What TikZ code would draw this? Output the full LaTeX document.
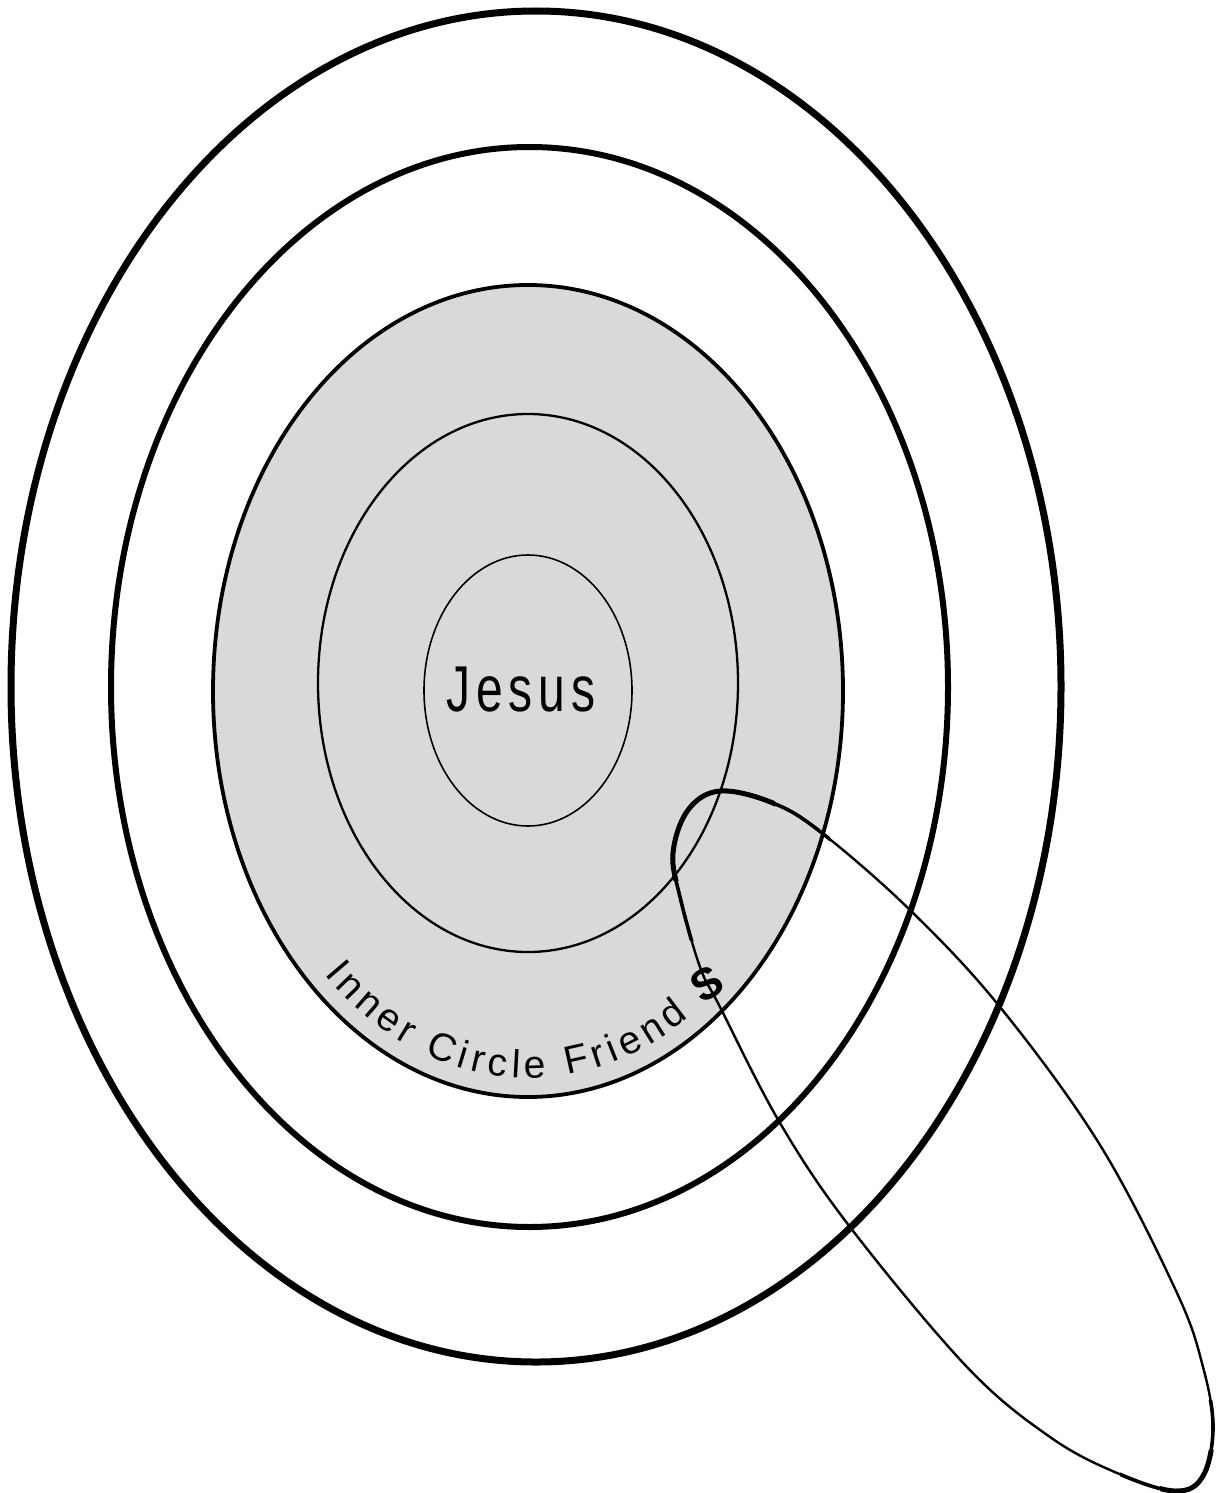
\documentclass[tikz,border=0pt]{standalone}
\usepackage{fontspec}
\setmainfont{Liberation Sans}
\usetikzlibrary{decorations.text}
\begin{document}
\begin{tikzpicture}[x=1pt,y=-1pt,
  ringA/.style={draw=black,line width=7pt},
  ringB/.style={draw=black,line width=6pt},
  ringC/.style={draw=black,line width=3.8pt,fill=gray!30},
  ringD/.style={draw=black,line width=2.3pt},
  ringE/.style={draw=black,line width=1.6pt},
  loopline/.style={draw=black,line width=2.4pt},
  loopmid/.style={draw=black,line width=3.6pt},
  loopthick/.style={draw=black,line width=5pt},
]
\fill[white] (0,0) rectangle (1219,1493);
\useasboundingbox (0,0) rectangle (1219,1493);
\draw[ringA] (536,686.5) ellipse [x radius=525, y radius=675.5];
\draw[ringB] (529.5,687) ellipse [x radius=418.5, y radius=540];
\draw[ringC] (528,691) ellipse [x radius=315, y radius=406];
\draw[ringD] (528,683) ellipse [x radius=210, y radius=269];
\draw[ringE] (528,690.5) ellipse [x radius=104, y radius=135.5];

\path[decorate, decoration={text along path, text align={fit to path},
   text={|\fontsize{39}{39}\selectfont|Inner Circle Friend}}]
   (528,691) ++(133:299 and 387) arc[start angle=133, end angle=57.5, x radius=299, y radius=387];

\begin{scope}[transform canvas={shift={(528,691)},yscale=1.35}]
  \node[anchor=base, inner sep=0pt, font=\fontsize{48}{48}\selectfont] (jesus) at (-7,15.5) {\addfontfeatures{LetterSpace=12}Jesus};
\end{scope}

\draw[loopline] plot[smooth cycle, tension=0.6] coordinates {(720,791) (773,803) (822,833) (910,910) (1000,1007) (1100,1145) (1177,1293) (1203,1367) (1213,1427) (1203,1476) (1175,1491) (1117,1473) (1050,1437) (967,1367) (850,1227) (780,1123) (720,1007) (700,967) (680,897) (673,853) (688,810)};
\begin{scope}
  \clip (655,775) rectangle (830,940);
  \draw[loopmid] plot[smooth cycle, tension=0.6] coordinates {(720,791) (773,803) (822,833) (910,910) (1000,1007) (1100,1145) (1177,1293) (1203,1367) (1213,1427) (1203,1476) (1175,1491) (1117,1473) (1050,1437) (967,1367) (850,1227) (780,1123) (720,1007) (700,967) (680,897) (673,853) (688,810)};
\end{scope}
\begin{scope}
  \clip (660,780) rectangle (775,880);
  \draw[loopthick] plot[smooth cycle, tension=0.6] coordinates {(720,791) (773,803) (822,833) (910,910) (1000,1007) (1100,1145) (1177,1293) (1203,1367) (1213,1427) (1203,1476) (1175,1491) (1117,1473) (1050,1437) (967,1367) (850,1227) (780,1123) (720,1007) (700,967) (680,897) (673,853) (688,810)};
\end{scope}
\begin{scope}
  \clip (1120,1400) rectangle (1219,1493);
  \draw[loopmid] plot[smooth cycle, tension=0.6] coordinates {(720,791) (773,803) (822,833) (910,910) (1000,1007) (1100,1145) (1177,1293) (1203,1367) (1213,1427) (1203,1476) (1175,1491) (1117,1473) (1050,1437) (967,1367) (850,1227) (780,1123) (720,1007) (700,967) (680,897) (673,853) (688,810)};
\end{scope}
\begin{scope}
  \clip (1160,1450) rectangle (1219,1493);
  \draw[loopthick] plot[smooth cycle, tension=0.6] coordinates {(720,791) (773,803) (822,833) (910,910) (1000,1007) (1100,1145) (1177,1293) (1203,1367) (1213,1427) (1203,1476) (1175,1491) (1117,1473) (1050,1437) (967,1367) (850,1227) (780,1123) (720,1007) (700,967) (680,897) (673,853) (688,810)};
\end{scope}

\node[rotate=32, inner sep=0pt, font=\bfseries\fontsize{44}{44}\selectfont] (finalS) at (707,984) {S};
\end{tikzpicture}
\end{document}
